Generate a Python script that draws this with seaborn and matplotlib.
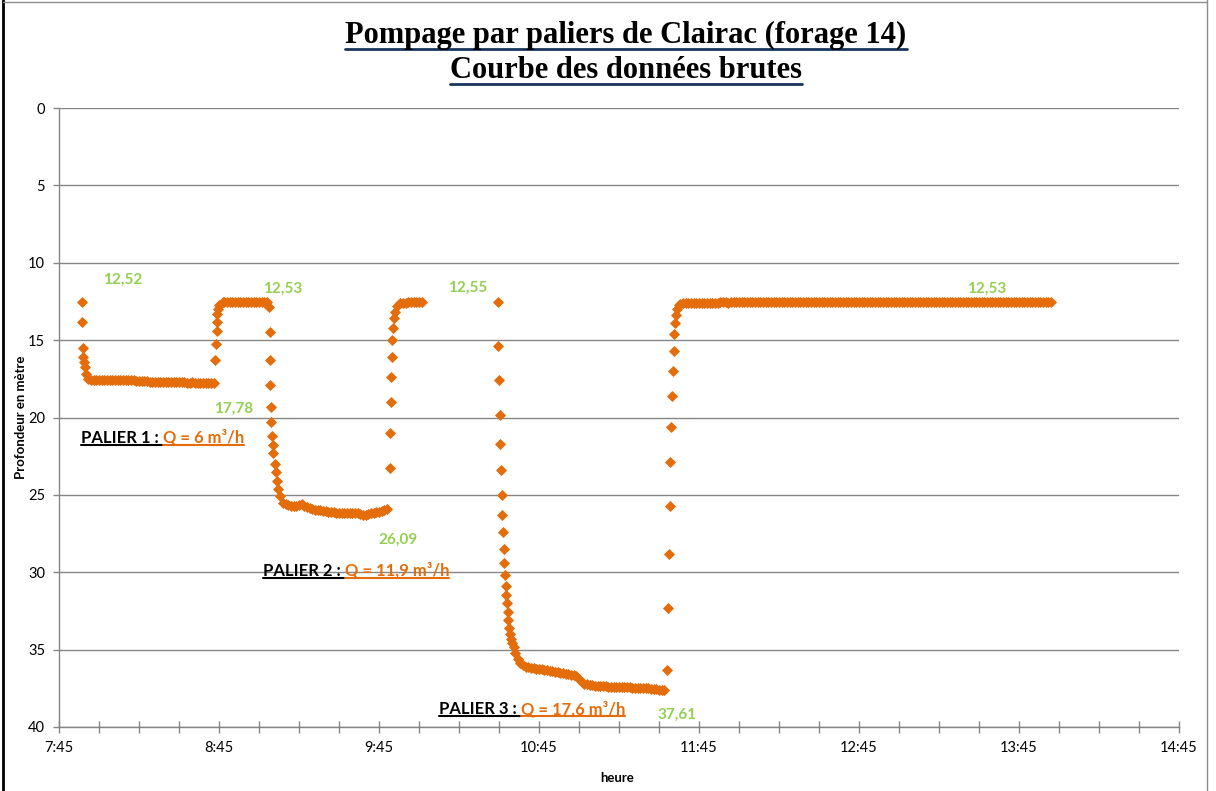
import numpy as np
import pandas as pd
import matplotlib
matplotlib.use("Agg")
import matplotlib.pyplot as plt
from matplotlib.ticker import FuncFormatter, MultipleLocator
from matplotlib.lines import Line2D
import seaborn as sns

# temps en minutes depuis minuit, profondeur en metre (lecture de la sonde)

# palier 1 : descente
descente_1_t = [473.6, 473.75, 473.9, 474.1, 474.4, 474.6, 475.1, 476.0]
descente_1_d = [12.52, 13.85, 15.50, 16.10, 16.40, 16.75, 17.20, 17.50]

# palier 1 : stabilisation
palier_1_t = [477, 478, 479, 480, 481, 482, 483, 484, 485, 486,
              487, 488, 489, 490, 491, 492, 493, 494, 495, 496,
              497, 498, 499, 500, 501, 502, 503, 504, 505, 506,
              507, 508, 509, 510, 511, 512, 513, 514, 515, 516,
              517, 518, 519, 520, 521, 522, 523]
palier_1_d = [17.55, 17.57, 17.58, 17.59, 17.60, 17.60, 17.59, 17.58, 17.57, 17.57,
              17.58, 17.59, 17.60, 17.58, 17.57, 17.58, 17.59, 17.61, 17.63, 17.65,
              17.66, 17.67, 17.68, 17.69, 17.70, 17.70, 17.71, 17.71, 17.72, 17.72,
              17.71, 17.72, 17.73, 17.73, 17.72, 17.73, 17.74, 17.74, 17.73, 17.74,
              17.75, 17.76, 17.76, 17.75, 17.76, 17.77, 17.78]

# remontee apres palier 1
remontee_1_t = [523.6, 523.8, 524.1, 524.25, 524.4, 524.6, 525.1, 526.4]
remontee_1_d = [16.30, 15.25, 14.43, 13.80, 13.30, 12.97, 12.70, 12.56]

repos_1_t = [527, 528, 529, 530, 531, 532, 533, 534, 535, 536, 537, 538, 539, 540, 541, 542, 543]
repos_1_d = [12.55, 12.54, 12.54, 12.53, 12.53, 12.53, 12.52, 12.53, 12.53, 12.53,
             12.52, 12.53, 12.53, 12.53, 12.53, 12.53, 12.53]

# palier 2
descente_2_t = [543.9, 544.0, 544.1, 544.2, 544.4, 544.5, 544.8, 545.1, 545.4, 546.0,
                546.4, 546.6, 547.2, 547.9, 549.1]
descente_2_d = [12.88, 14.50, 16.30, 17.87, 19.30, 20.30, 21.20, 21.80, 22.30, 23.00,
                23.50, 24.10, 24.60, 25.10, 25.50]

palier_2_t = [550, 551, 552, 553, 554, 555, 556, 557, 558, 559,
              560, 561, 562, 563, 564, 565, 566, 567, 568, 569,
              570, 571, 572, 573, 574, 575, 576, 577, 578, 579,
              580, 581, 582, 583, 584, 585, 586, 587, 588]
palier_2_d = [25.62, 25.68, 25.72, 25.75, 25.70, 25.64, 25.62, 25.70, 25.80, 25.88,
              25.92, 25.95, 25.98, 26.00, 26.03, 26.06, 26.08, 26.10, 26.12, 26.14,
              26.16, 26.18, 26.17, 26.16, 26.15, 26.15, 26.17, 26.20, 26.24, 26.28,
              26.30, 26.26, 26.20, 26.16, 26.12, 26.08, 26.04, 26.00, 25.92]

remontee_2_t = [589.1, 589.2, 589.4, 589.5, 589.8, 589.9, 590.4, 590.6, 591.0, 591.6, 592.9]
remontee_2_d = [23.25, 21.00, 19.00, 17.40, 16.10, 15.00, 14.20, 13.57, 13.20, 12.77, 12.60]

repos_2_t = [594, 595, 596, 597, 598, 599, 600, 601]
repos_2_d = [12.58, 12.57, 12.56, 12.56, 12.55, 12.55, 12.55, 12.55]

# palier 3
descente_3_t = [629.5, 629.75, 630.0, 630.25, 630.5, 630.75, 631.0, 631.25, 631.5, 631.75,
                632.0, 632.25, 632.5, 632.75, 633.0, 633.25, 633.5, 633.75, 634.0, 634.5,
                635.0, 635.5, 636.0, 637.0, 638.0, 639.0]
descente_3_d = [12.55, 15.35, 17.55, 19.83, 21.70, 23.40, 25.00, 26.30, 27.40, 28.50,
                29.40, 30.20, 30.90, 31.50, 32.00, 32.60, 33.10, 33.60, 34.00, 34.30,
                34.60, 34.85, 35.20, 35.60, 35.85, 36.00]

palier_3_t = [640, 641, 642, 643, 644, 645, 646, 647, 648, 649,
              650, 651, 652, 653, 654, 655, 656, 657, 658, 659,
              660, 661, 662, 663, 664, 665, 666, 667, 668, 669,
              670, 671, 672, 673, 674, 675, 676, 677, 678, 679,
              680, 681, 682, 683, 684, 685, 686, 687, 688, 689,
              690, 691, 692]
palier_3_d = [36.10, 36.13, 36.16, 36.19, 36.22, 36.25, 36.28, 36.31, 36.34, 36.37,
              36.40, 36.43, 36.46, 36.49, 36.52, 36.55, 36.58, 36.62, 36.65, 36.68,
              36.90, 37.10, 37.20, 37.25, 37.28, 37.30, 37.32, 37.34, 37.36, 37.37,
              37.38, 37.39, 37.40, 37.40, 37.41, 37.41, 37.42, 37.42, 37.43, 37.44,
              37.45, 37.46, 37.47, 37.48, 37.49, 37.50, 37.51, 37.53, 37.55, 37.57,
              37.58, 37.60, 37.61]

remontee_3_t = [693.1, 693.4, 693.7, 694.0, 694.3, 694.6, 694.9, 695.2, 695.5, 695.8,
                696.1, 696.4, 696.7, 697.5]
remontee_3_d = [36.30, 32.30, 28.80, 25.70, 22.90, 20.60, 18.60, 17.00, 15.70, 14.60,
                13.90, 13.40, 13.00, 12.70]

repos_3_t = [698, 699, 700, 701, 702, 703, 704, 705, 706, 707,
             708, 709, 710, 711, 712, 713, 714, 715, 716, 717,
             718, 719, 720, 721, 722, 723, 724, 725, 726, 727,
             728, 729, 730, 731, 732, 733, 734, 735, 736, 737,
             738, 739, 740, 741, 742, 743, 744, 745, 746, 747,
             748, 749, 750, 751, 752, 753, 754, 755, 756, 757,
             758, 759, 760, 761, 762, 763, 764, 765, 766, 767,
             768, 769, 770, 771, 772, 773, 774, 775, 776, 777,
             778, 779, 780, 781, 782, 783, 784, 785, 786, 787,
             788, 789, 790, 791, 792, 793, 794, 795, 796, 797,
             798, 799, 800, 801, 802, 803, 804, 805, 806, 807,
             808, 809, 810, 811, 812, 813, 814, 815, 816, 817,
             818, 819, 820, 821, 822, 823, 824, 825, 826, 827,
             828, 829, 830, 831, 832, 833, 834, 835, 836, 837]
repos_3_d = [12.64, 12.63, 12.62, 12.61, 12.61, 12.60, 12.60, 12.59, 12.59, 12.58,
             12.58, 12.58, 12.57, 12.57, 12.57, 12.56, 12.56, 12.56, 12.57, 12.56,
             12.55, 12.56, 12.55, 12.55, 12.56, 12.55, 12.55, 12.54, 12.55, 12.55,
             12.54, 12.54, 12.55, 12.54, 12.54, 12.54, 12.53, 12.54, 12.54, 12.54,
             12.53, 12.54, 12.53, 12.53, 12.54, 12.53, 12.53, 12.53, 12.53, 12.54,
             12.53, 12.53, 12.53, 12.52, 12.53, 12.53, 12.53, 12.53, 12.52, 12.53,
             12.53, 12.53, 12.52, 12.53, 12.53, 12.53, 12.52, 12.53, 12.53, 12.53,
             12.53, 12.52, 12.53, 12.53, 12.53, 12.53, 12.52, 12.53, 12.53, 12.52,
             12.53, 12.53, 12.53, 12.53, 12.52, 12.53, 12.53, 12.53, 12.53, 12.52,
             12.53, 12.53, 12.52, 12.53, 12.53, 12.53, 12.53, 12.52, 12.53, 12.53,
             12.53, 12.53, 12.52, 12.53, 12.53, 12.53, 12.53, 12.52, 12.53, 12.53,
             12.53, 12.52, 12.53, 12.53, 12.53, 12.53, 12.53, 12.52, 12.53, 12.53,
             12.53, 12.53, 12.53, 12.52, 12.53, 12.53, 12.53, 12.53, 12.53, 12.53,
             12.53, 12.52, 12.53, 12.53, 12.53, 12.53, 12.52, 12.53, 12.53, 12.53]

# etiquettes vertes (valeurs remarquables) : texte, temps, profondeur
etiq_txt = ["12,52", "12,53", "17,78", "26,09", "12,55", "37,61", "12,53"]
etiq_t = [489.0, 549.0, 530.6, 592.1, 618.4, 696.8, 813.0]
etiq_d = [11.1, 11.7, 19.45, 27.9, 11.6, 39.2, 11.7]

# paliers : nom, debit, position du texte
paliers_nom = ["PALIER 1 : ", "PALIER 2 : ", "PALIER 3 : "]
paliers_q = ["Q = 6 m³/h", "Q = 11,9 m³/h", "Q = 17,6 m³/h"]
paliers_t = [473.25, 541.5, 607.5]
paliers_d = [21.3, 29.9, 38.85]

heures_ticks = [465, 525, 585, 645, 705, 765, 825, 885]

orange = "#E46C0A"
vert = "#92D050"
gris = "#868686"
bleu_titre = "#17365D"

segments_t = [descente_1_t, palier_1_t, remontee_1_t, repos_1_t, descente_2_t, palier_2_t,
              remontee_2_t, repos_2_t, descente_3_t, palier_3_t, remontee_3_t, repos_3_t]
segments_d = [descente_1_d, palier_1_d, remontee_1_d, repos_1_d, descente_2_d, palier_2_d,
              remontee_2_d, repos_2_d, descente_3_d, palier_3_d, remontee_3_d, repos_3_d]
df = pd.DataFrame({"temps": np.concatenate(segments_t), "profondeur": np.concatenate(segments_d)})

sns.set_theme(style="white")
plt.rcParams['font.family'] = ['Lato', 'DejaVu Sans']
plt.rcParams['text.color'] = 'black'
plt.rcParams['axes.labelcolor'] = 'black'
plt.rcParams['xtick.labelcolor'] = 'black'
plt.rcParams['ytick.labelcolor'] = 'black'

fig = plt.figure(figsize=(12.16, 7.91), dpi=100)
ax = fig.add_axes([59 / 1216, 1 - 727 / 791, 1120 / 1216, 619 / 791])

sns.scatterplot(data=df, x="temps", y="profondeur", marker="D", color=orange, s=32,
                linewidth=0, ax=ax, legend=False, zorder=3)

ax.set_xlim(465, 885)
ax.set_ylim(40, 0)
ax.set_yticks(range(0, 41, 5))
ax.xaxis.set_minor_locator(MultipleLocator(15))
ax.set_xticks(heures_ticks)
ax.xaxis.set_major_formatter(FuncFormatter(lambda m, p: f"{int(m // 60)}:{int(m % 60):02d}"))
ax.grid(axis="y", color=gris, lw=1)
ax.grid(axis="x", visible=False)
ax.set_axisbelow(True)

for s in ["top", "right"]:
    ax.spines[s].set_visible(False)
for s in ["left", "bottom"]:
    ax.spines[s].set_color(gris)
    ax.spines[s].set_linewidth(1)

ax.tick_params(axis="x", which="both", direction="inout", length=8, width=1, color=gris,
               labelsize=10.5, pad=6, bottom=True, labelcolor="black")
ax.tick_params(axis="y", direction="out", length=4, width=1, color=gris, labelsize=10.5, pad=6,
               left=True, labelcolor="black")

ax.set_xlabel("heure", fontsize=9.5, fontweight="bold", color="black")
ax.set_ylabel("Profondeur en mètre", fontsize=9.5, fontweight="bold", color="black")
ax.xaxis.set_label_coords(0.498, -0.072)
ax.yaxis.set_label_coords(-0.029, 0.5)

# titre
t1 = fig.text(626 / 1216, 1 - 35 / 791, "Pompage par paliers de Clairac (forage 14)", ha="center",
              va="center", fontsize=22, fontweight="bold", family="Liberation Serif", color="black")
t2 = fig.text(626 / 1216, 1 - 70 / 791, "Courbe des données brutes", ha="center",
              va="center", fontsize=22, fontweight="bold", family="Liberation Serif", color="black")

# etiquettes vertes
for txt, x, y in zip(etiq_txt, etiq_t, etiq_d):
    ax.text(x, y, txt, color=vert, fontsize=11, fontweight="bold", ha="center", va="center")

# paliers
textes_soulignes = [(t1, bleu_titre, 2), (t2, bleu_titre, 2)]
for nom, q, x, y in zip(paliers_nom, paliers_q, paliers_t, paliers_d):
    a = ax.text(x, y, nom, color="black", fontsize=12, fontweight="bold", ha="left", va="center")
    b = ax.annotate(q, xy=(1, 0), xycoords=a, va="bottom", ha="left", color=orange,
                    fontsize=12, fontweight="bold")
    textes_soulignes.append((a, "black", 1.5))
    textes_soulignes.append((b, orange, 1.5))

fig.canvas.draw()
renderer = fig.canvas.get_renderer()
inv = fig.transFigure.inverted()
for txt, couleur, lw in textes_soulignes:
    bb = txt.get_window_extent(renderer)
    (x0, y0), (x1, _) = inv.transform([(bb.x0, bb.y0 + 1), (bb.x1, bb.y0 + 1)])
    fig.add_artist(Line2D([x0, x1], [y0, y0], color=couleur, lw=lw, transform=fig.transFigure))

# cadre du graphique
fig.add_artist(Line2D([3 / 1216, 3 / 1216], [0, 1], color="black", lw=2, transform=fig.transFigure))
fig.add_artist(Line2D([3 / 1216, 1207 / 1216], [1 - 1.5 / 791, 1 - 1.5 / 791], color="#8c8c8c", lw=1,
                      transform=fig.transFigure))
fig.add_artist(Line2D([1207 / 1216, 1207 / 1216], [0, 1], color="#8c8c8c", lw=1, transform=fig.transFigure))

fig.savefig("out.png", dpi=100)
